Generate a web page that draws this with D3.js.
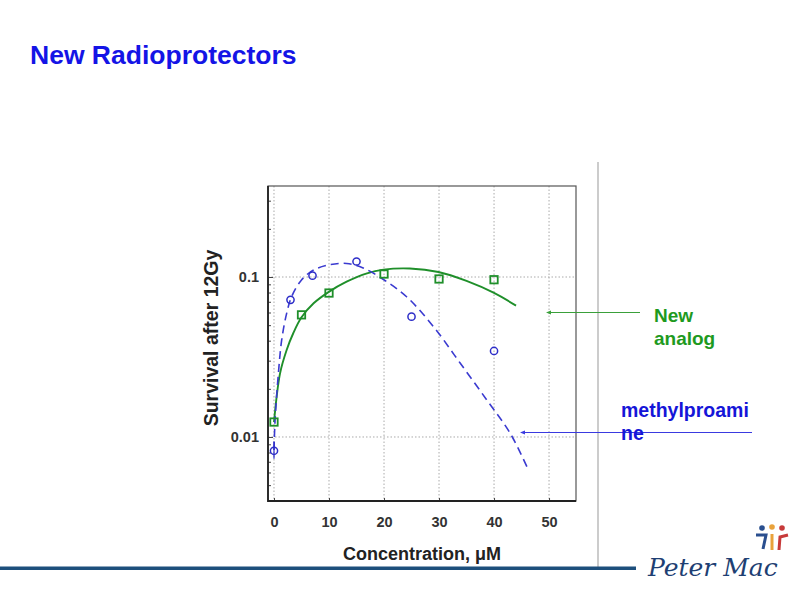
<!DOCTYPE html>
<html><head><meta charset="utf-8">
<script src="https://cdn.jsdelivr.net/npm/d3@7"></script>
<style>
html,body{margin:0;padding:0;background:#fff;}
svg{display:block;font-family:"Liberation Sans",Arial,sans-serif;}
</style></head>
<body>
<svg id="c" width="800" height="600"></svg>
<script>
// ---- data ----
const xTicks = [0, 10, 20, 30, 40, 50];
const yMajorTicks = [0.01, 0.1];
const yTickLabels = ["0.01", "0.1"];
const yMinorTicks = [0.004,0.005,0.006,0.007,0.008,0.009,0.02,0.03,0.04,0.05,0.06,0.07,0.08,0.09,0.2,0.3];

// methylproamine measured points
const methylX = [0, 3, 7, 15, 25, 40];
const methylY = [0.0082, 0.072, 0.102, 0.125, 0.0565, 0.0345];
// methylproamine fitted curve
const methylFitX = [0, 0.2, 0.8, 1.4, 2.3, 3.2, 5.0, 7.2, 10.2, 13.2, 16.2, 19.9, 24.1, 29.0, 33.8, 38.7, 42.9, 46.0];
const methylFitY = [0.0083, 0.0128, 0.025, 0.0404, 0.0593, 0.0753, 0.0958, 0.1106, 0.1195, 0.1215, 0.114, 0.0965, 0.0753, 0.0489, 0.0291, 0.0170, 0.0106, 0.0065];

// new analog measured points
const analogX = [0, 5, 10, 20, 30, 40];
const analogY = [0.0124, 0.058, 0.0794, 0.1044, 0.0972, 0.0962];
// new analog fitted curve
const analogFitX = [0, 1.1, 2.3, 3.5, 5.0, 7.2, 9.9, 13.2, 16.9, 19.9, 24.7, 29.9, 35.0, 40.0, 44.0];
const analogFitY = [0.0124, 0.025, 0.035, 0.0445, 0.056, 0.0685, 0.0805, 0.0935, 0.1055, 0.1112, 0.113, 0.1075, 0.0945, 0.0795, 0.0662];

const GREEN = "#1f8f2a", BLUE = "#2d2dc8";

const svg = d3.select("#c");
const L = 268, R = 576, T = 186, B = 501;
const x = d3.scaleLinear().domain([-1.09, 54.9]).range([L, R]);
const y = d3.scaleLog().domain([0.00398, 0.3706]).range([B, T]);

// title
svg.append("text").attr("x", 30).attr("y", 64).attr("fill", "#1414e6")
  .attr("font-size", 26.5).attr("font-weight", "bold").text("New Radioprotectors");

// grid
const g = svg.append("g");
g.selectAll(".gx").data(xTicks).join("line")
  .attr("x1", d => x(d)).attr("x2", d => x(d)).attr("y1", T).attr("y2", B)
  .attr("stroke", "#aaa").attr("stroke-width", 1).attr("stroke-dasharray", "1.5,2");
g.selectAll(".gy").data(yMajorTicks).join("line")
  .attr("x1", L).attr("x2", R).attr("y1", d => y(d)).attr("y2", d => y(d))
  .attr("stroke", "#aaa").attr("stroke-width", 1).attr("stroke-dasharray", "1.5,2");

// axes with inward ticks
const yAxisMinor = d3.axisRight(y).tickValues(yMinorTicks).tickSize(3).tickFormat("");
svg.append("g").attr("transform", `translate(${L},0)`).call(yAxisMinor)
  .call(s => s.select(".domain").remove())
  .call(s => s.selectAll("line").attr("stroke", "#444"));
const yAxisMajor = d3.axisLeft(y).tickValues(yMajorTicks).tickSize(0).tickPadding(9)
  .tickFormat((d, i) => yTickLabels[i]);
svg.append("g").attr("transform", `translate(${L},0)`).call(yAxisMajor)
  .call(s => s.select(".domain").remove())
  .call(s => s.selectAll("text").attr("font-size", 14.5).attr("font-weight", "bold")
    .attr("fill", "#333").attr("font-family", "Liberation Sans, Arial, sans-serif"));
svg.append("g").attr("transform", `translate(${L},0)`)
  .call(d3.axisRight(y).tickValues(yMajorTicks).tickSize(5).tickFormat(""))
  .call(s => s.select(".domain").remove())
  .call(s => s.selectAll("line").attr("stroke", "#444"));

const xAxis = d3.axisTop(x).tickValues(xTicks).tickSize(3).tickFormat("");
svg.append("g").attr("transform", `translate(0,${B})`).call(xAxis)
  .call(s => s.select(".domain").remove())
  .call(s => s.selectAll("line").attr("stroke", "#444"));
svg.append("g").attr("transform", `translate(0,${B})`)
  .call(d3.axisBottom(x).tickValues(xTicks).tickSize(0).tickPadding(16).tickFormat(d3.format("d")))
  .call(s => s.select(".domain").remove())
  .call(s => s.selectAll("text").attr("font-size", 14.5).attr("font-weight", "bold")
    .attr("fill", "#333").attr("font-family", "Liberation Sans, Arial, sans-serif"));

// frame
svg.append("rect").attr("x", L).attr("y", T).attr("width", R - L).attr("height", B - T)
  .attr("fill", "none").attr("stroke", "#555").attr("stroke-width", 1.2);
svg.append("line").attr("x1", L).attr("x2", L).attr("y1", T).attr("y2", B + 1)
  .attr("stroke", "#222").attr("stroke-width", 1.8);
svg.append("line").attr("x1", L).attr("x2", R).attr("y1", B).attr("y2", B)
  .attr("stroke", "#222").attr("stroke-width", 1.8);

// axis titles
svg.append("text").attr("transform", `translate(218,338) rotate(-90)`)
  .attr("text-anchor", "middle").attr("font-size", 19.5).attr("font-weight", "bold")
  .attr("fill", "#222").text("Survival after 12Gy");
svg.append("text").attr("x", 422).attr("y", 560).attr("text-anchor", "middle")
  .attr("font-size", 18).attr("font-weight", "bold").attr("fill", "#222").text("Concentration, \u03bcM");

// curves
const line = d3.line().x(d => x(d[0])).y(d => y(d[1])).curve(d3.curveCatmullRom.alpha(0.5));
svg.append("path").datum(analogFitX.map((v, i) => [v, analogFitY[i]]))
  .attr("d", line).attr("fill", "none").attr("stroke", GREEN).attr("stroke-width", 1.9);
svg.append("path").datum(methylFitX.map((v, i) => [v, methylFitY[i]]))
  .attr("d", line).attr("fill", "none").attr("stroke", "#3a3ad0").attr("stroke-width", 1.6)
  .attr("stroke-dasharray", "8,5");

// error bar on first methyl point
svg.append("line").attr("x1", x(0)).attr("x2", x(0)).attr("y1", y(0.0073)).attr("y2", y(0.0094))
  .attr("stroke", BLUE).attr("stroke-width", 1.2);

// markers
svg.selectAll(".mc").data(methylX.map((v, i) => [v, methylY[i]])).join("circle")
  .attr("cx", d => x(d[0])).attr("cy", d => y(d[1])).attr("r", 3.6)
  .attr("fill", "none").attr("stroke", BLUE).attr("stroke-width", 1.5);
svg.selectAll(".ms").data(analogX.map((v, i) => [v, analogY[i]])).join("rect")
  .attr("x", d => x(d[0]) - 3.7).attr("y", d => y(d[1]) - 3.7).attr("width", 7.4).attr("height", 7.4)
  .attr("fill", "none").attr("stroke", GREEN).attr("stroke-width", 1.8);

// divider
svg.append("line").attr("x1", 598).attr("x2", 598).attr("y1", 162).attr("y2", 567)
  .attr("stroke", "#999").attr("stroke-width", 1);

// annotations
function arrow(x1, x2, yy, col) {
  svg.append("line").attr("x1", x1).attr("x2", x2 + 4).attr("y1", yy).attr("y2", yy)
    .attr("stroke", col).attr("stroke-width", 1);
  svg.append("path").attr("d", `M${x2},${yy} L${x2 + 5},${yy - 2} L${x2 + 5},${yy + 2} Z`).attr("fill", col);
}
arrow(640, 546, 312.5, "#3aa03a");
arrow(752, 520, 432.5, "#3a3ae0");
const na = svg.append("text").attr("font-size", 19).attr("font-weight", "bold").attr("fill", "#1e9a1e");
na.append("tspan").attr("x", 654).attr("y", 322).text("New");
na.append("tspan").attr("x", 654).attr("y", 345).text("analog");
const mp = svg.append("text").attr("font-size", 19.5).attr("font-weight", "bold").attr("fill", "#1515d8");
mp.append("tspan").attr("x", 621).attr("y", 417).text("methylproami");
mp.append("tspan").attr("x", 621).attr("y", 440).text("ne");

// bottom bar
svg.append("rect").attr("x", 0).attr("y", 566.5).attr("width", 636).attr("height", 3.5).attr("fill", "#1d4f7c");

// logo
svg.append("text").attr("x", 648).attr("y", 576).attr("font-size", 25).attr("font-style", "italic")
  .attr("font-family", "DejaVu Serif, serif").attr("fill", "#1e3f73").text("Peter Mac");
const lg = svg.append("g");
lg.append("circle").attr("cx", 762).attr("cy", 528).attr("r", 2.8).attr("fill", "#2a4f8f");
lg.append("circle").attr("cx", 772).attr("cy", 527).attr("r", 2.8).attr("fill", "#e9a23b");
lg.append("circle").attr("cx", 782).attr("cy", 528).attr("r", 2.8).attr("fill", "#c73a3a");
lg.append("path").attr("d", "M756,535 L766,535 L763,549").attr("fill", "none").attr("stroke", "#2a4f8f").attr("stroke-width", 3);
lg.append("path").attr("d", "M772,534 L772,550").attr("fill", "none").attr("stroke", "#e9a23b").attr("stroke-width", 3);
lg.append("path").attr("d", "M779,550 L780,537 L788,535").attr("fill", "none").attr("stroke", "#c73a3a").attr("stroke-width", 3);
</script>
</body></html>
